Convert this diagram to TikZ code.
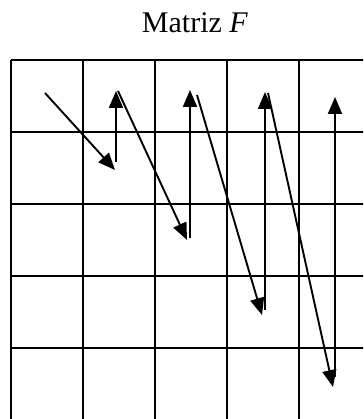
\documentclass[tikz,border=0pt]{standalone}
\usepackage{fontspec}
\setmainfont{Liberation Serif}
\usetikzlibrary{arrows.meta}
\tikzset{
  >={Triangle[length=17pt,width=14pt]},
  cellline/.style={line width=2.6pt},
  walk/.style={->,line width=1.9pt},
  titletext/.style={font=\fontsize{30}{36}\selectfont,anchor=base,inner sep=0pt}
}

\begin{document}
\begin{tikzpicture}[x=1pt,y=-1pt]
  \useasboundingbox (0,0) rectangle (363,419);
  \node[titletext] (titulo) at (195,33) {Matriz \textit{F}};

  % cuadricula 5x5 (borde derecho e inferior fuera de la imagen)
  \begin{scope}
    \clip (0,0) rectangle (363,419);
    \foreach \i in {0,...,5} {
      \draw[cellline] (11+72*\i,60) -- (11+72*\i,420);
      \draw[cellline] (11,60+72*\i) -- (371,60+72*\i);
    }
  \end{scope}

  % recorrido en zigzag
  \coordinate (d1s) at (45,93);   \coordinate (d1e) at (115,170);
  \coordinate (v1s) at (116,162); \coordinate (v1e) at (116,91);
  \coordinate (d2s) at (118,91);  \coordinate (d2e) at (187,240);
  \coordinate (v2s) at (190,238); \coordinate (v2e) at (190,90);
  \coordinate (d3s) at (197,95);  \coordinate (d3e) at (262,315);
  \coordinate (v3s) at (265,310); \coordinate (v3e) at (265,92);
  \coordinate (d4s) at (268,93);  \coordinate (d4e) at (333,387);
  \coordinate (v4s) at (335,377); \coordinate (v4e) at (335,97);

  \draw[walk] (d1s) -- (d1e);
  \draw[walk] (v1s) -- (v1e);
  \draw[walk] (d2s) -- (d2e);
  \draw[walk] (v2s) -- (v2e);
  \draw[walk] (d3s) -- (d3e);
  \draw[walk] (v3s) -- (v3e);
  \draw[walk] (d4s) -- (d4e);
  \draw[walk] (v4s) -- (v4e);
\end{tikzpicture}
\end{document}
